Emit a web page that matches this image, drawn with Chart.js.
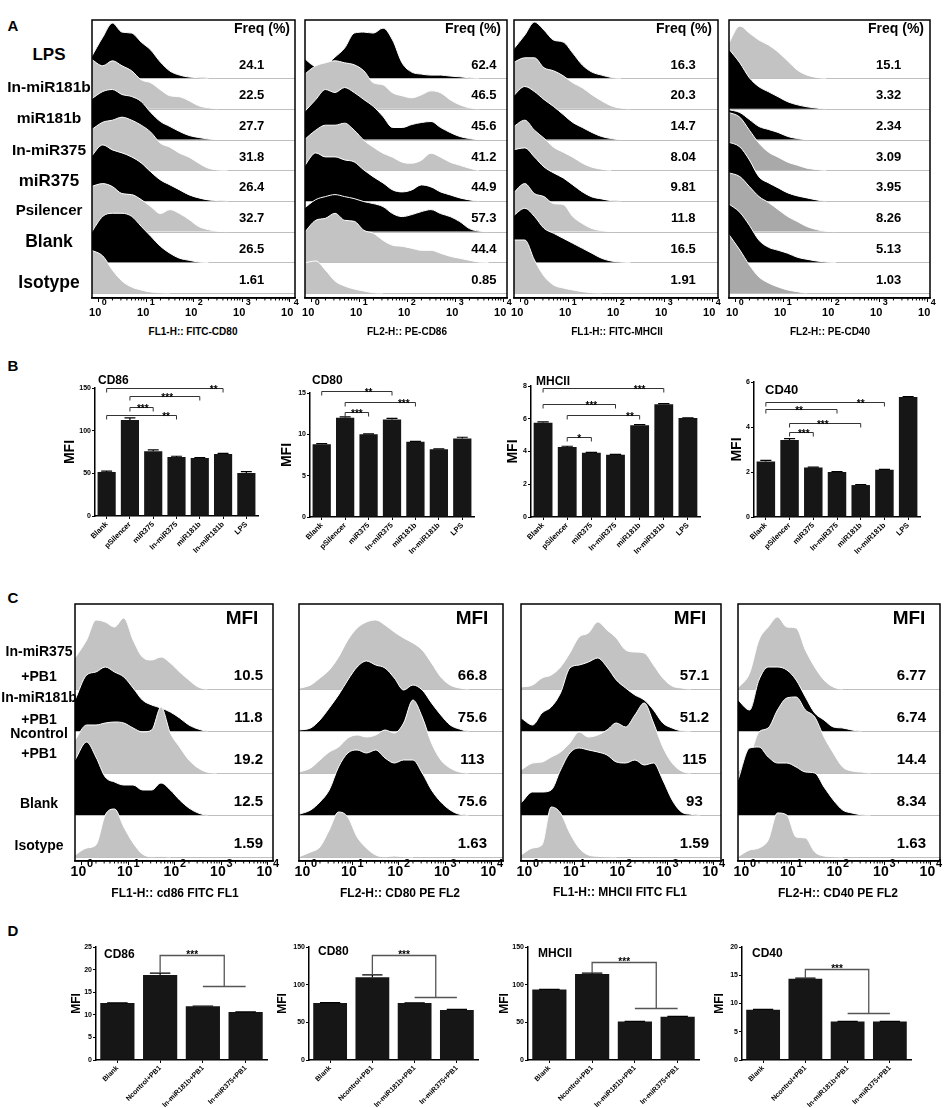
<!DOCTYPE html>
<html>
<head>
<meta charset="utf-8">
<script src="https://cdn.jsdelivr.net/npm/chart.js@4.4.1/dist/chart.umd.min.js"></script>
<style>
  body { margin: 0; background: #fff; }
  #fig { position: relative; width: 945px; height: 1108px; overflow: hidden;
         font-family: "Liberation Sans", Arial, sans-serif; font-weight: bold; color: #000; }
  #fig canvas { position: absolute; }
  .t { position: absolute; white-space: nowrap; line-height: 1; transform: translate(-50%, -50%); }
</style>
</head>
<body>
<div id="fig"></div>
<script>
// ---------- data ----------
// histogram bins, in decades of fluorescence (10^x)
const bins = [-0.15, 0.1, 0.3, 0.5, 0.7, 0.9, 1.1, 1.3, 1.5, 1.7, 1.9, 2.1, 2.3, 2.5, 2.7, 2.9, 3.1, 3.3, 3.5, 3.7, 3.9];

// panel A: rows from top to bottom
const groupsA = ['LPS', 'In-miR181b', 'miR181b', 'In-miR375', 'miR375', 'Psilencer', 'Blank', 'Isotype'];
const freqCD80 = [24.1, 22.5, 27.7, 31.8, 26.4, 32.7, 26.5, 1.61];
const freqCD86 = [62.4, 46.5, 45.6, 41.2, 44.9, 57.3, 44.4, 0.85];
const freqMHCII = [16.3, 20.3, 14.7, 8.04, 9.81, 11.8, 16.5, 1.91];
const freqCD40 = [15.1, 3.32, 2.34, 3.09, 3.95, 8.26, 5.13, 1.03];

const histA_CD80 = [
  [20, 41, 55, 46, 45, 36, 28, 16, 7, 3, 1, 0.5, 0, 0, 0, 0, 0, 0, 0, 0, 0],
  [50, 43, 48, 43, 38, 29, 26, 19, 13, 12, 8, 3, 1, 0, 0, 0, 0, 0, 0, 0, 0],
  [40, 48, 50, 45, 43, 38, 27, 18, 13, 8, 4, 2, 0.5, 0, 0, 0, 0, 0, 0, 0, 0],
  [40, 48, 50, 53, 50, 45, 38, 27, 23, 17, 13, 7, 2, 0.3, 0, 0, 0, 0, 0, 0, 0],
  [44, 56, 51, 48, 44, 38, 29, 21, 16, 11, 6, 3, 1, 0.3, 0, 0, 0, 0, 0, 0, 0],
  [45, 48, 45, 38, 37, 32, 25, 18, 22, 18, 12, 5, 2, 0.3, 0, 0, 0, 0, 0, 0, 0],
  [29, 46, 49, 49, 46, 36, 26, 16, 9, 4, 2, 0.3, 0, 0, 0, 0, 0, 0, 0, 0, 0],
  [43, 37, 23, 12, 6, 3, 1, 0.3, 0, 0, 0, 0, 0, 0, 0, 0, 0, 0, 0, 0, 0]
];
const histA_CD86 = [
  [20, 12, 13, 21, 30, 45, 46, 45, 50, 38, 15, 6, 4, 3, 3, 2, 1.3, 0.3, 0, 0, 0],
  [34, 43, 46, 48, 46, 44, 38, 26, 24, 16, 13, 11, 14, 18, 16, 9, 4, 1, 0, 0, 0],
  [27, 40, 50, 47, 52, 47, 40, 33, 23, 12, 12, 15, 17, 18, 12, 7, 3, 1, 0, 0, 0],
  [30, 40, 45, 45, 47, 40, 30, 23, 17, 13, 8, 7, 10, 17, 13, 8, 5, 2, 0, 0, 0],
  [34, 48, 44, 44, 41, 39, 31, 24, 18, 11, 9, 11, 16, 14, 9, 6, 3, 1, 0, 0, 0],
  [23, 32, 35, 37, 35, 33, 30, 28, 25, 18, 15, 17, 20, 22, 18, 15, 10, 3, 0.5, 0, 0],
  [29, 42, 44, 49, 42, 41, 32, 29, 22, 17, 16, 14, 12, 12, 9, 6, 4, 2, 0.3, 0, 0],
  [30, 32, 23, 12, 7, 4, 2, 0.3, 0, 0, 0, 0, 0, 0, 0, 0, 0, 0, 0, 0, 0]
];
const histA_MHCII = [
  [28, 43, 56, 48, 38, 36, 25, 13, 6, 3, 0.7, 0, 0, 0, 0, 0, 0, 0, 0, 0, 0],
  [46, 51, 51, 41, 38, 33, 26, 21, 14, 8, 3, 0.7, 0, 0, 0, 0, 0, 0, 0, 0, 0],
  [43, 53, 48, 40, 33, 25, 17, 12, 7, 3, 1, 0, 0, 0, 0, 0, 0, 0, 0, 0, 0],
  [43, 50, 40, 32, 23, 18, 13, 7, 3, 1, 0, 0, 0, 0, 0, 0, 0, 0, 0, 0, 0],
  [51, 53, 44, 34, 28, 23, 16, 9, 4, 2, 0.3, 0, 0, 0, 0, 0, 0, 0, 0, 0, 0],
  [38, 48, 38, 35, 28, 27, 15, 8, 3, 1, 0, 0, 0, 0, 0, 0, 0, 0, 0, 0, 0],
  [46, 54, 46, 34, 29, 24, 19, 14, 9, 4, 1.3, 0.3, 0, 0, 0, 0, 0, 0, 0, 0, 0],
  [53, 53, 33, 17, 8, 5, 3, 1.3, 0.3, 0, 0, 0, 0, 0, 0, 0, 0, 0, 0, 0, 0]
];
const histA_CD40 = [
  [33, 52, 45, 38, 33, 26, 17, 8, 3, 0.7, 0, 0, 0, 0, 0, 0, 0, 0, 0, 0, 0],
  [61, 46, 31, 22, 17, 12, 7, 4, 2, 0.7, 0, 0, 0, 0, 0, 0, 0, 0, 0, 0, 0],
  [30, 27, 20, 13, 10, 7, 3, 1, 0, 0, 0, 0, 0, 0, 0, 0, 0, 0, 0, 0, 0],
  [58, 53, 40, 27, 18, 13, 8, 5, 2, 0.7, 0, 0, 0, 0, 0, 0, 0, 0, 0, 0, 0],
  [59, 54, 41, 24, 18, 13, 8, 5, 3, 1, 0, 0, 0, 0, 0, 0, 0, 0, 0, 0, 0],
  [59, 55, 45, 35, 29, 22, 15, 10, 5, 2, 0.3, 0, 0, 0, 0, 0, 0, 0, 0, 0, 0],
  [59, 50, 37, 22, 15, 12, 9, 5, 3, 1.3, 0.3, 0, 0, 0, 0, 0, 0, 0, 0, 0, 0],
  [60, 43, 28, 16, 10, 6, 3, 1.3, 0, 0, 0, 0, 0, 0, 0, 0, 0, 0, 0, 0, 0]
];

// panel C: rows from top to bottom
const groupsC = ['In-miR375+PB1', 'In-miR181b+PB1', 'Ncontrol+PB1', 'Blank', 'Isotype'];
const mfiC_CD86 = [10.5, 11.8, 19.2, 12.5, 1.59];
const mfiC_CD80 = [66.8, 75.6, 113, 75.6, 1.63];
const mfiC_MHCII = [57.1, 51.2, 115, 93, 1.59];
const mfiC_CD40 = [6.77, 6.74, 14.4, 8.34, 1.63];

const histC_CD86 = [
  [31, 49, 69, 67, 62, 71, 49, 32, 29, 32, 26, 17, 9, 2, 0, 0, 0, 0, 0, 0, 0],
  [31, 56, 59, 64, 59, 54, 43, 31, 26, 23, 19, 13, 6, 2, 0, 0, 0, 0, 0, 0, 0],
  [33, 48, 48, 50, 51, 50, 45, 41, 43, 66, 40, 26, 13, 5, 0.7, 0, 0, 0, 0, 0, 0],
  [55, 73, 58, 38, 33, 30, 30, 25, 25, 32, 25, 15, 7, 2, 0, 0, 0, 0, 0, 0, 0],
  [2, 9, 12, 42, 48, 30, 14, 3, 0.3, 0.7, 0, 0, 0, 0, 0, 0, 0, 0, 0, 0, 0]
];
const histC_CD80 = [
  [0.7, 4, 11, 19, 32, 49, 61, 67, 69, 64, 57, 51, 46, 39, 26, 12, 4, 1, 0, 0, 0],
  [1, 3, 11, 23, 36, 51, 64, 70, 66, 63, 53, 41, 46, 41, 28, 16, 6, 2, 0, 0, 0],
  [1, 5, 13, 21, 26, 35, 38, 36, 38, 43, 40, 50, 73, 56, 30, 13, 5, 1, 0, 0, 0],
  [0.7, 5, 13, 25, 48, 62, 65, 62, 65, 57, 52, 55, 55, 42, 25, 13, 5, 0.7, 0, 0, 0],
  [0.3, 5, 10, 27, 45, 40, 20, 9, 2, 0.3, 1, 0.3, 0, 0, 0, 0, 0, 0, 0, 0, 0]
];
const histC_MHCII = [
  [2, 4, 11, 14, 22, 36, 52, 56, 67, 59, 51, 39, 37, 36, 24, 11, 3, 1, 0, 0, 0],
  [13, 6, 18, 24, 38, 63, 66, 69, 73, 64, 51, 43, 36, 31, 21, 8, 3, 0.3, 0, 0, 0],
  [3, 10, 11, 16, 21, 30, 41, 36, 38, 43, 50, 46, 58, 70, 50, 26, 10, 2, 0, 0, 0],
  [12, 23, 23, 25, 45, 62, 67, 65, 63, 60, 53, 52, 55, 50, 52, 35, 15, 3, 0.7, 0, 0],
  [2, 9, 12, 50, 44, 24, 9, 2, 0.7, 0.3, 0, 0, 0, 0, 0, 0, 0, 0, 0, 0, 0]
];
const histC_CD40 = [
  [1, 16, 49, 62, 72, 62, 61, 39, 22, 9, 2, 0, 0, 0, 0, 0, 0, 0, 0, 0, 0],
  [31, 21, 51, 64, 64, 61, 51, 34, 18, 11, 4, 3, 1, 0, 0, 0, 0, 0, 0, 0, 0],
  [1, 16, 41, 45, 63, 75, 76, 63, 56, 36, 20, 6, 2, 1, 0, 0, 0, 0, 0, 0, 0],
  [35, 67, 68, 58, 52, 52, 48, 43, 42, 28, 15, 5, 2, 0.3, 0, 0, 0, 0, 0, 0, 0],
  [0.3, 7, 9, 17, 44, 42, 20, 19, 5, 1, 0.3, 0, 0, 0, 0, 0, 0, 0, 0, 0, 0]
];

// panel B
const groupsB = ['Blank', 'pSilencer', 'miR375', 'In-miR375', 'miR181b', 'In-miR181b', 'LPS'];
const mfiB_CD86 = [51.6, 112.5, 76, 69, 68, 72.7, 50.4];
const errB_CD86 = [1, 2.5, 1.5, 1, 0.4, 0.8, 1.5];
const mfiB_CD80 = [8.8, 12.0, 10.0, 11.8, 9.1, 8.2, 9.5];
const errB_CD80 = [0.08, 0.12, 0.05, 0.12, 0.05, 0.05, 0.15];
const mfiB_MHCII = [5.75, 4.27, 3.92, 3.8, 5.6, 6.88, 6.04];
const errB_MHCII = [0.06, 0.05, 0.03, 0.03, 0.04, 0.04, 0.02];
const mfiB_CD40 = [2.47, 3.42, 2.2, 2.0, 1.42, 2.1, 5.33];
const errB_CD40 = [0.05, 0.06, 0.02, 0.02, 0.02, 0.02, 0.02];
// significance: [group a, group b, bracket height, stars]
const sigB_CD86 = [[0, 5, 150, '**'], [1, 4, 141, '***'], [1, 2, 128, '***'], [0, 3, 118, '**']];
const sigB_CD80 = [[0, 3, 15.2, '**'], [1, 4, 13.9, '***'], [1, 2, 12.7, '***']];
const sigB_MHCII = [[0, 5, 7.87, '***'], [0, 3, 6.9, '***'], [1, 4, 6.2, '**'], [1, 2, 4.9, '*']];
const sigB_CD40 = [[0, 5, 5.1, '**'], [0, 3, 4.8, '**'], [1, 4, 4.2, '***'], [1, 2, 3.78, '***']];

// panel D
const groupsD = ['Blank', 'Ncontrol+PB1', 'In-miR181b+PB1', 'In-miR375+PB1'];
const mfiD_CD86 = [12.6, 18.8, 11.9, 10.6];
const errD_CD86 = [0.05, 0.4, 0.05, 0.05];
const mfiD_CD80 = [75.5, 110, 75.5, 66.5];
const errD_CD80 = [0.6, 3, 0.5, 0.8];
const mfiD_MHCII = [93.5, 114, 51, 57.5];
const errD_MHCII = [0.3, 1.2, 0.3, 0.3];
const mfiD_CD40 = [8.9, 14.4, 6.8, 6.8];
const errD_CD40 = [0.05, 0.1, 0.05, 0.05];
// significance: [group, joined group 1, joined group 2, top, lower, stars]
const sigD_CD86 = [1, 2, 3, 23.3, 16.4, '***'];
const sigD_CD80 = [1, 2, 3, 139, 84, '***'];
const sigD_MHCII = [1, 2, 3, 130, 69, '***'];
const sigD_CD40 = [1, 2, 3, 16.1, 8.3, '***'];

// ---------- helpers ----------
const FONT = '"Liberation Sans", Arial, sans-serif';
Chart.defaults.font.family = FONT;
Chart.defaults.color = '#000';
const SHADE = { k: '#000000', g: '#c3c3c3', d: '#a9a9a9' };
const fig = document.getElementById('fig');

function canvasAt(x, y, w, h) {
  const c = document.createElement('canvas');
  c.width = Math.round(w);
  c.height = Math.round(h);
  c.style.left = Math.round(x) + 'px';
  c.style.top = Math.round(y) + 'px';
  fig.appendChild(c);
  return c;
}

function text(str, x, y, size) {
  const d = document.createElement('div');
  d.className = 't';
  d.textContent = str;
  d.style.left = x + 'px';
  d.style.top = y + 'px';
  d.style.fontSize = size + 'px';
  fig.appendChild(d);
}

// stacked (ridgeline) flow-cytometry histograms
function histDecor(o) {
  return {
    id: 'histDecor',
    beforeDatasetsDraw(chart) {
      const { ctx, chartArea: a, scales: { y } } = chart;
      ctx.save();
      ctx.strokeStyle = '#bfbfbf';
      ctx.lineWidth = 1;
      for (let r = 0; r < o.n; r++) {
        const py = Math.round(y.getPixelForValue(r * o.step)) + 0.5;
        ctx.beginPath(); ctx.moveTo(a.left, py); ctx.lineTo(a.right, py); ctx.stroke();
      }
      ctx.restore();
    },
    afterDraw(chart) {
      const { ctx, chartArea: a, scales: { x, y } } = chart;
      ctx.save();
      ctx.strokeStyle = '#000';
      ctx.lineWidth = 1.5;
      ctx.strokeRect(a.left, a.top, a.right - a.left, a.bottom - a.top);
      // minor log ticks
      ctx.lineWidth = 1;
      for (let d = 0; d < 4; d++) {
        for (let k = 2; k < 10; k++) {
          const px = x.getPixelForValue(d + Math.log10(k));
          ctx.beginPath(); ctx.moveTo(px, a.bottom); ctx.lineTo(px, a.bottom + 2.5); ctx.stroke();
        }
      }
      // decade labels
      ctx.fillStyle = '#000';
      ctx.textBaseline = 'middle';
      for (let d = 0; d <= 4; d++) {
        const px = x.getPixelForValue(d);
        ctx.font = 'bold ' + o.ten + 'px ' + FONT;
        ctx.textAlign = 'right';
        ctx.fillText('10', px + o.ten * 0.3, a.bottom + o.tenDy);
        ctx.font = 'bold ' + o.sup + 'px ' + FONT;
        ctx.textAlign = 'left';
        ctx.fillText(String(d), px + o.ten * 0.35, a.bottom + o.supDy);
      }
      // header and per-row values
      ctx.textAlign = 'center';
      ctx.font = 'bold ' + o.headSize + 'px ' + FONT;
      ctx.fillText(o.head, a.right - o.headDx, a.top + o.headDy);
      ctx.font = 'bold ' + o.valSize + 'px ' + FONT;
      o.values.forEach((v, k) => {
        const py = y.getPixelForValue((o.n - 1 - k) * o.step) - o.valDy;
        ctx.fillText(String(v), x.getPixelForValue(o.valX), py);
      });
      ctx.restore();
    }
  };
}

function histChart(box, rows, shades, values, o) {
  const padL = 14, padR = 14, padT = 2;
  const w = box[2] - box[0], h = box[3] - box[1];
  const cv = canvasAt(box[0] - padL, box[1] - padT, w + padL + padR, h + padT + o.axisH);
  const n = rows.length;
  const datasets = [];
  // bottom row first so that lower rows are painted over the rows above
  for (let k = n - 1; k >= 0; k--) {
    const base = (n - 1 - k) * o.step;
    const hist = rows[k];
    datasets.push({
      data: bins.map((b, i) => ({ x: b, y: base + hist[i] })),
      fill: { value: base },
      backgroundColor: SHADE[shades[k]],
      borderColor: '#ffffff',
      borderWidth: 1,
      pointRadius: 0,
      cubicInterpolationMode: 'monotone',
      segment: {
        borderColor: c => (hist[c.p0DataIndex] === 0 && hist[c.p1DataIndex] === 0) ? 'rgba(0,0,0,0)' : '#ffffff'
      }
    });
  }
  const xmin = o.xmin, xmax = o.xmin + w / o.pxPerDec;
  new Chart(cv, {
    type: 'line',
    data: { datasets },
    options: {
      responsive: false,
      animation: false,
      events: [],
      layout: { padding: { left: padL, right: padR, top: padT, bottom: 0 } },
      plugins: { legend: { display: false }, tooltip: { enabled: false } },
      scales: {
        x: {
          type: 'linear', min: xmin, max: xmax,
          afterFit: s => { s.height = o.axisH; },
          ticks: { display: false, stepSize: 1, includeBounds: false },
          grid: { drawOnChartArea: false, tickLength: 4, color: '#000' },
          border: { color: '#000', width: 1.5 }
        },
        y: { display: false, min: o.ymin, max: o.ymax }
      }
    },
    plugins: [histDecor(Object.assign({ n, values }, o))]
  });
}

// bar charts with error bars and significance marks
function barDecor(o) {
  return {
    id: 'barDecor',
    afterDatasetsDraw(chart) {
      const { ctx, scales: { y } } = chart;
      const meta = chart.getDatasetMeta(0);
      ctx.save();
      ctx.strokeStyle = '#000';
      ctx.lineWidth = 1.2;
      o.values.forEach((v, i) => {
        const bar = meta.data[i];
        const y0 = y.getPixelForValue(v), y1 = y.getPixelForValue(v + o.errs[i]);
        const hw = bar.width * 0.3;
        ctx.beginPath();
        ctx.moveTo(bar.x, y0); ctx.lineTo(bar.x, y1);
        ctx.moveTo(bar.x - hw, y1); ctx.lineTo(bar.x + hw, y1);
        ctx.stroke();
      });
      ctx.restore();
    },
    afterDraw(chart) {
      const { ctx, chartArea: a, scales: { x, y } } = chart;
      ctx.save();
      ctx.fillStyle = '#000';
      // panel title
      ctx.font = 'bold ' + o.titleSize + 'px ' + FONT;
      ctx.textAlign = 'left';
      ctx.textBaseline = 'middle';
      ctx.fillText(o.title, a.left + o.titleDx, a.top + o.titleDy);
      // y title
      ctx.save();
      ctx.translate(a.left + o.mfiDx, (a.top + a.bottom) / 2);
      ctx.rotate(-Math.PI / 2);
      ctx.textAlign = 'center';
      ctx.font = 'bold ' + o.mfiSize + 'px ' + FONT;
      ctx.fillText('MFI', 0, 0);
      ctx.restore();
      ctx.font = 'bold 10px ' + FONT;
      ctx.textAlign = 'center';
      ctx.textBaseline = 'alphabetic';
      if (o.sig) {
        ctx.strokeStyle = '#333';
        ctx.lineWidth = 1;
        o.sig.forEach(([i, j, v, lab], n) => {
          const x1 = x.getPixelForValue(i), x2 = x.getPixelForValue(j);
          const yy = Math.round(y.getPixelForValue(v)) + 0.5;
          ctx.beginPath();
          ctx.moveTo(x1, yy + 4); ctx.lineTo(x1, yy); ctx.lineTo(x2, yy); ctx.lineTo(x2, yy + 4);
          ctx.stroke();
          ctx.fillText(lab, x.getPixelForValue(o.starAt[n]), yy + 4);
        });
      }
      if (o.link) {
        const [g, b1, b2, top, low, lab] = o.link;
        const xa = x.getPixelForValue(g), xb = x.getPixelForValue(b1), xc = x.getPixelForValue(b2);
        const xm = (xb + xc) / 2;
        const ys = y.getPixelForValue(o.values[g] + o.errs[g]);
        const yt = Math.round(y.getPixelForValue(top)) + 0.5, yl = Math.round(y.getPixelForValue(low)) + 0.5;
        ctx.strokeStyle = '#555';
        ctx.lineWidth = 1.3;
        ctx.beginPath();
        ctx.moveTo(xa, ys); ctx.lineTo(xa, yt); ctx.lineTo(xm, yt); ctx.lineTo(xm, yl);
        ctx.moveTo(xb, yl); ctx.lineTo(xc, yl);
        ctx.stroke();
        ctx.fillText(lab, x.getPixelForValue(o.starAt), yt + 2);
      }
      ctx.restore();
    }
  };
}

function barChart(area, labels, values, errs, o) {
  const yW = 24, mL = 60, mR = 10, mT = 30;
  const cv = canvasAt(area[0] - mL, area[1] - mT, area[2] - area[0] + mL + mR, area[3] - area[1] + mT + o.xH + 2);
  new Chart(cv, {
    type: 'bar',
    data: {
      labels,
      datasets: [{ data: values, backgroundColor: '#161616', barPercentage: o.barPct, categoryPercentage: 1 }]
    },
    options: {
      responsive: false,
      animation: false,
      events: [],
      layout: { padding: { left: mL - yW, right: mR, top: mT, bottom: 2 } },
      plugins: { legend: { display: false }, tooltip: { enabled: false } },
      scales: {
        x: {
          afterFit: s => { s.height = o.xH; },
          grid: { drawOnChartArea: false, offset: false, tickLength: 3, color: '#000' },
          border: { color: '#000', width: 1.5 },
          ticks: { autoSkip: false, minRotation: 45, maxRotation: 45, padding: 1,
                   font: { size: o.xFont, weight: 'bold' }, color: '#000' }
        },
        y: {
          min: 0, max: o.ymax,
          afterFit: s => { s.width = yW; },
          ticks: { stepSize: o.step, padding: 1, font: { size: 7, weight: 'bold' }, color: '#000' },
          grid: { drawOnChartArea: false, tickLength: 3, color: '#000' },
          border: { color: '#000', width: 1.5 }
        }
      }
    },
    plugins: [barDecor(Object.assign({ values, errs }, o))]
  });
}

// ---------- panel A ----------
const optA = { xmin: -0.125, pxPerDec: 48, ymin: -5, ymax: 273, step: 30.7, axisH: 26,
  ten: 11, sup: 9, tenDy: 15, supDy: 5, head: 'Freq (%)', headSize: 14, headDy: 9,
  valSize: 13, valDy: 13 };
histChart([92, 20, 295, 298], histA_CD80, ['k', 'g', 'k', 'g', 'k', 'g', 'k', 'g'], freqCD80,
  Object.assign({}, optA, { valX: 3.2, headDx: 33 }));
histChart([305, 20, 507, 298], histA_CD86, ['k', 'g', 'k', 'g', 'k', 'k', 'g', 'g'], freqCD86,
  Object.assign({}, optA, { valX: 3.6, headDx: 34 }));
histChart([514, 20, 718, 298], histA_MHCII, ['k', 'g', 'k', 'g', 'k', 'g', 'k', 'g'], freqMHCII,
  Object.assign({}, optA, { valX: 3.4, headDx: 34 }));
histChart([729, 20, 930, 298], histA_CD40, ['g', 'k', 'k', 'd', 'k', 'd', 'k', 'd'], freqCD40,
  Object.assign({}, optA, { valX: 3.2, headDx: 34 }));

// ---------- panel C ----------
const optC = { xmin: -0.15, pxPerDec: 46.5, ymin: -4, ymax: 253, step: 42, axisH: 26,
  ten: 14, sup: 11, tenDy: 11, supDy: 3, head: 'MFI', headSize: 19, headDx: 31, headDy: 15,
  valSize: 15, valDy: 13, valX: 3.58 };
histChart([75, 604, 273, 861], histC_CD86, ['g', 'k', 'g', 'k', 'g'], mfiC_CD86, optC);
histChart([299, 604, 503, 861], histC_CD80, ['g', 'k', 'g', 'k', 'g'], mfiC_CD80, optC);
histChart([521, 604, 721, 861], histC_MHCII, ['g', 'k', 'g', 'k', 'g'], mfiC_MHCII, optC);
histChart([738, 604, 940, 861], histC_CD40, ['g', 'k', 'g', 'k', 'g'], mfiC_CD40, optC);

// ---------- panel B ----------
const optB = { xH: 46, xFont: 7.5, barPct: 0.78, mfiSize: 14 };
barChart([95, 388, 258, 516], groupsB, mfiB_CD86, errB_CD86, Object.assign({}, optB, {
  ymax: 150, step: 50, title: 'CD86', titleSize: 12, titleDx: 3, titleDy: -7, mfiDx: -25,
  sig: sigB_CD86, starAt: [4.6, 2.6, 1.55, 2.55] }));
barChart([310, 393, 474, 517], groupsB, mfiB_CD80, errB_CD80, Object.assign({}, optB, {
  ymax: 15, step: 5, title: 'CD80', titleSize: 12, titleDx: 2, titleDy: -12, mfiDx: -23,
  sig: sigB_CD80, starAt: [2.0, 3.5, 1.5] }));
barChart([531, 386, 700, 517], groupsB, mfiB_MHCII, errB_MHCII, Object.assign({}, optB, {
  ymax: 8, step: 2, title: 'MHCII', titleSize: 12, titleDx: 5, titleDy: -4, mfiDx: -18,
  sig: sigB_MHCII, starAt: [4.0, 2.0, 3.6, 1.5] }));
barChart([754, 382, 920, 517], groupsB, mfiB_CD40, errB_CD40, Object.assign({}, optB, {
  ymax: 6, step: 2, title: 'CD40', titleSize: 13, titleDx: 11, titleDy: 8, mfiDx: -17,
  sig: sigB_CD40, starAt: [4.0, 1.4, 2.4, 1.6] }));

// ---------- panel D ----------
const optD = { xH: 50, xFont: 7, barPct: 0.8, mfiSize: 12, titleSize: 12, starAt: 1.75 };
barChart([96, 947, 267, 1060], groupsD, mfiD_CD86, errD_CD86, Object.assign({}, optD, {
  ymax: 25, step: 5, title: 'CD86', titleDx: 8, titleDy: 8, mfiDx: -19, link: sigD_CD86 }));
barChart([309, 947, 478, 1060], groupsD, mfiD_CD80, errD_CD80, Object.assign({}, optD, {
  ymax: 150, step: 50, title: 'CD80', titleDx: 9, titleDy: 5, mfiDx: -26, link: sigD_CD80 }));
barChart([528, 947, 699, 1060], groupsD, mfiD_MHCII, errD_MHCII, Object.assign({}, optD, {
  ymax: 150, step: 50, title: 'MHCII', titleDx: 10, titleDy: 7, mfiDx: -23, link: sigD_MHCII }));
barChart([742, 947, 911, 1060], groupsD, mfiD_CD40, errD_CD40, Object.assign({}, optD, {
  ymax: 20, step: 5, title: 'CD40', titleDx: 10, titleDy: 7, mfiDx: -22, link: sigD_CD40 }));

// ---------- text outside the plots ----------
text('A', 13, 25, 15);
text('B', 13, 365, 15);
text('C', 13, 597, 15);
text('D', 13, 930, 15);

const rowYA = [54, 87, 118, 150, 180, 209, 242, 283];
const rowSizeA = [17, 15.5, 15.5, 15.5, 17, 15, 17.5, 17.5];
groupsA.forEach((g, i) => text(g, 49, rowYA[i], rowSizeA[i]));

const rowLinesC = [[651, 676], [697, 719], [733, 753], [803], [845]];
groupsC.forEach((g, i) => {
  const parts = g.includes('+') ? [g.split('+')[0], '+' + g.split('+')[1]] : [g];
  parts.forEach((p, j) => text(p, 39, rowLinesC[i][j], 14));
});

text('FL1-H:: FITC-CD80', 193, 332, 10);
text('FL2-H:: PE-CD86', 407, 332, 10);
text('FL1-H:: FITC-MHCII', 617, 332, 10);
text('FL2-H:: PE-CD40', 830, 332, 10);

text('FL1-H:: cd86 FITC FL1', 175, 893, 12);
text('FL2-H:: CD80 PE  FL2', 400, 893, 12);
text('FL1-H:: MHCII FITC FL1', 620, 892, 12);
text('FL2-H:: CD40 PE  FL2', 838, 893, 12);
</script>
</body>
</html>
